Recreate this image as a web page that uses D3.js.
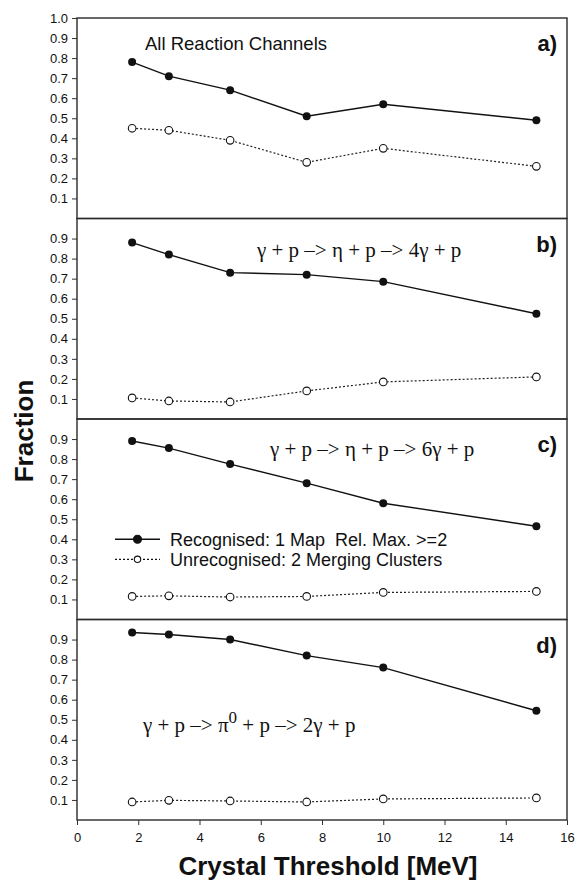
<!DOCTYPE html>
<html>
<head>
<meta charset="utf-8">
<script src="https://cdn.jsdelivr.net/npm/d3@7"></script>
<style>
  body { margin: 0; background: #fff; }
  svg { display: block; }
</style>
</head>
<body>
<div id="chart"></div>
<script>
// crystal thresholds (MeV)
var thresholds = [1.8, 3, 5, 7.5, 10, 15];

// panel a) all reaction channels
var recA = [0.78, 0.71, 0.64, 0.51, 0.57, 0.49];
var unrecA = [0.45, 0.44, 0.39, 0.28, 0.35, 0.26];
// panel b) eta -> 4 gamma
var recB = [0.88, 0.82, 0.73, 0.72, 0.685, 0.525];
var unrecB = [0.105, 0.09, 0.085, 0.14, 0.185, 0.21];
// panel c) eta -> 6 gamma
var recC = [0.89, 0.855, 0.775, 0.68, 0.58, 0.465];
var unrecC = [0.115, 0.118, 0.112, 0.115, 0.135, 0.14];
// panel d) pi0 -> 2 gamma
var recD = [0.935, 0.925, 0.90, 0.82, 0.76, 0.545];
var unrecD = [0.09, 0.098, 0.095, 0.09, 0.105, 0.11];

var panelLetters = ["a)", "b)", "c)", "d)"];
var xTicks = [0, 2, 4, 6, 8, 10, 12, 14, 16];
var yTicksTop = [0.1, 0.2, 0.3, 0.4, 0.5, 0.6, 0.7, 0.8, 0.9, 1.0];
var yTicks = [0.1, 0.2, 0.3, 0.4, 0.5, 0.6, 0.7, 0.8, 0.9];
var legendLabels = ["Recognised: 1 Map  Rel. Max. >=2", "Unrecognised: 2 Merging Clusters"];

var w = 580, h = 881;
var plotLeft = 77, plotRight = 567, plotTop = 18, plotBottom = 820;
var panelH = (plotBottom - plotTop) / 4;
var sans = "'Liberation Sans', Arial, sans-serif";
var serif = "'Liberation Serif', 'Times New Roman', serif";

var svg = d3.select("#chart").append("svg")
  .attr("width", w)
  .attr("height", h);

var x = d3.scaleLinear().domain([0, 16]).range([plotLeft, plotRight]);

var panels = [
  { rec: recA, unrec: unrecA, ticks: yTicksTop },
  { rec: recB, unrec: unrecB, ticks: yTicks },
  { rec: recC, unrec: unrecC, ticks: yTicks },
  { rec: recD, unrec: unrecD, ticks: yTicks }
];

var line = function(y) {
  return d3.line()
    .x(function(d) { return x(d[0]); })
    .y(function(d) { return y(d[1]); });
};

var scales = [];

panels.forEach(function(p, i) {
  var y0 = plotTop + i * panelH;
  var y = d3.scaleLinear().domain([0, 1]).range([y0 + panelH, y0]);
  scales.push(y);
  var g = svg.append("g");

  // y axis
  var ax = g.append("g")
    .attr("transform", "translate(" + plotLeft + ",0)")
    .call(d3.axisLeft(y).tickValues(p.ticks).tickSize(5).tickPadding(4)
      .tickFormat(d3.format(".1f")));
  ax.select(".domain").remove();
  ax.selectAll("line").attr("stroke", "#333");
  ax.selectAll("text")
    .attr("font-family", sans)
    .attr("font-size", 13)
    .attr("fill", "#111");

  // panel frame
  g.append("rect")
    .attr("x", plotLeft)
    .attr("y", y0)
    .attr("width", plotRight - plotLeft)
    .attr("height", panelH)
    .attr("fill", "none")
    .attr("stroke", "#2a2a2a")
    .attr("stroke-width", 1.4);

  var recPts = d3.zip(thresholds, p.rec);
  var unrecPts = d3.zip(thresholds, p.unrec);

  g.append("path")
    .attr("d", line(y)(unrecPts))
    .attr("fill", "none")
    .attr("stroke", "#222")
    .attr("stroke-width", 1.2)
    .attr("stroke-dasharray", "2,2");

  g.append("path")
    .attr("d", line(y)(recPts))
    .attr("fill", "none")
    .attr("stroke", "#111")
    .attr("stroke-width", 1.4);

  g.selectAll("circle.rec")
    .data(recPts)
    .enter()
    .append("circle")
    .attr("class", "rec")
    .attr("cx", function(d) { return x(d[0]); })
    .attr("cy", function(d) { return y(d[1]); })
    .attr("r", 4)
    .attr("fill", "#111");

  g.selectAll("circle.unrec")
    .data(unrecPts)
    .enter()
    .append("circle")
    .attr("class", "unrec")
    .attr("cx", function(d) { return x(d[0]); })
    .attr("cy", function(d) { return y(d[1]); })
    .attr("r", 3.8)
    .attr("fill", "#fff")
    .attr("stroke", "#111")
    .attr("stroke-width", 1.1);

  // panel letter
  g.append("text")
    .attr("x", plotRight - 10)
    .attr("y", y0 + 33)
    .attr("text-anchor", "end")
    .attr("font-family", sans)
    .attr("font-weight", "bold")
    .attr("font-size", 22)
    .attr("fill", "#111")
    .text(panelLetters[i]);
});

// x axis
var xa = svg.append("g")
  .attr("transform", "translate(0," + plotBottom + ")")
  .call(d3.axisBottom(x).tickValues(xTicks).tickSize(5).tickPadding(8));
xa.select(".domain").remove();
xa.selectAll("line").attr("stroke", "#333");
xa.selectAll("text")
  .attr("font-family", sans)
  .attr("font-size", 13)
  .attr("fill", "#111");

// panel captions
svg.append("text")
  .attr("x", 145)
  .attr("y", plotTop + 32)
  .attr("font-family", sans)
  .attr("font-size", 18.5)
  .attr("fill", "#111")
  .text("All Reaction Channels");

var reac = [
  { i: 1, x: 257, dy: 38, label: "γ + p –> η + p –> 4γ + p" },
  { i: 2, x: 270, dy: 37, label: "γ + p –> η + p –> 6γ + p" }
];
reac.forEach(function(r) {
  svg.append("text")
    .attr("x", r.x)
    .attr("y", plotTop + r.i * panelH + r.dy)
    .attr("font-family", serif)
    .attr("font-size", 21)
    .attr("fill", "#111")
    .text(r.label);
});

var tD = svg.append("text")
  .attr("x", 143)
  .attr("y", scales[3](0.44))
  .attr("font-family", serif)
  .attr("font-size", 21)
  .attr("fill", "#111");
tD.append("tspan").text("γ + p –> π");
tD.append("tspan").attr("dy", -9).attr("font-size", 17).text("0");
tD.append("tspan").attr("dy", 9).text(" + p –> 2γ + p");

// legend
var yC = scales[2];
var legendRows = [
  { y: yC(0.4), dash: null, fill: "#111", r: 4 },
  { y: yC(0.3), dash: "2,2", fill: "#fff", r: 3.2 }
];
legendRows.forEach(function(row, k) {
  svg.append("line")
    .attr("x1", 115).attr("x2", 160)
    .attr("y1", row.y).attr("y2", row.y)
    .attr("stroke", "#111")
    .attr("stroke-width", k === 0 ? 1.4 : 1.2)
    .attr("stroke-dasharray", row.dash);
  svg.append("circle")
    .attr("cx", 137.5).attr("cy", row.y)
    .attr("r", row.r)
    .attr("fill", row.fill)
    .attr("stroke", "#111")
    .attr("stroke-width", 1.1);
  svg.append("text")
    .attr("x", 170)
    .attr("y", row.y + 6.5)
    .attr("font-family", sans)
    .attr("font-size", 18)
    .attr("fill", "#111")
    .style("white-space", "pre")
    .text(legendLabels[k]);
});

// axis titles
svg.append("text")
  .attr("x", 328)
  .attr("y", 875)
  .attr("text-anchor", "middle")
  .attr("font-family", sans)
  .attr("font-weight", "bold")
  .attr("font-size", 26)
  .attr("fill", "#111")
  .text("Crystal Threshold [MeV]");

svg.append("text")
  .attr("transform", "translate(33,431) rotate(-90)")
  .attr("text-anchor", "middle")
  .attr("font-family", sans)
  .attr("font-weight", "bold")
  .attr("font-size", 26)
  .attr("fill", "#111")
  .text("Fraction");
</script>
</body>
</html>
